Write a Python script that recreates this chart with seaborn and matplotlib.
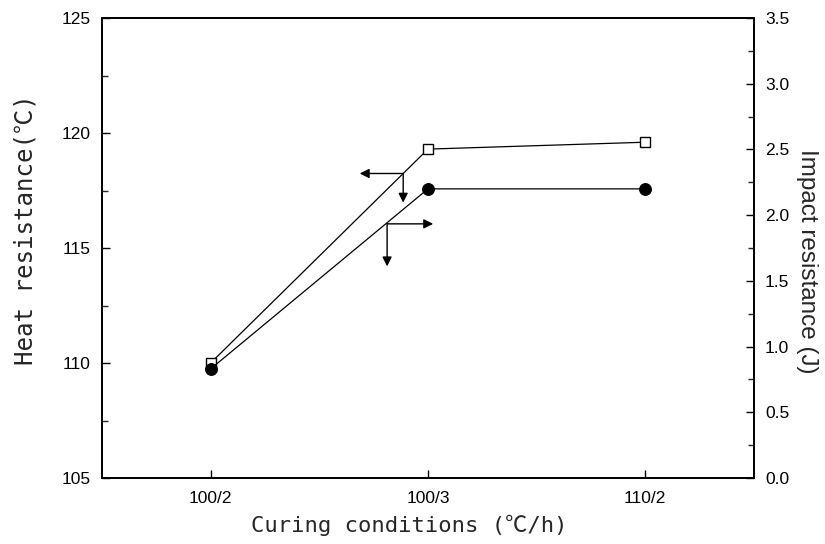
import matplotlib
matplotlib.use("Agg")
import matplotlib.pyplot as plt
import seaborn as sns
from matplotlib.ticker import MultipleLocator, FormatStrFormatter

# data
conditions = ["100/2", "100/3", "110/2"]
heat_resistance = [110.0, 119.3, 119.6]     # open squares, left axis (C)
impact_resistance = [0.83, 2.2, 2.2]        # filled circles, right axis (J)

# L-shaped arrow markers (corner on the curve, in left-axis units)
heat_arrow = [0.886, 118.24, 0.686, 116.97]     # corner x, corner y, left tip x, down tip y
impact_arrow = [0.812, 116.05, 1.024, 114.2]    # corner x, corner y, right tip x, down tip y

sns.set_style("ticks")
plt.rcParams["font.family"] = ["Liberation Sans", "DejaVu Sans"]
plt.rcParams["xtick.direction"] = "in"
plt.rcParams["ytick.direction"] = "in"

fig = plt.figure(figsize=(8.25, 5.44), dpi=100)
ax = fig.add_axes([0.1236, 0.1213, 0.7903, 0.8456])
ax2 = ax.twinx()

sns.lineplot(x=conditions, y=heat_resistance, ax=ax, color="black", lw=0.9,
             marker="s", markersize=7.5, markerfacecolor="white",
             markeredgecolor="black", markeredgewidth=1.0, sort=False)
sns.lineplot(x=conditions, y=impact_resistance, ax=ax2, color="black", lw=0.9,
             marker="o", markersize=8.5, markerfacecolor="black",
             markeredgecolor="black", sort=False)

ax.set_xlim(-0.5, 2.5)
ax.set_ylim(105, 125)
ax2.set_ylim(0, 3.5)
ax.yaxis.set_major_locator(MultipleLocator(5))
ax.yaxis.set_minor_locator(MultipleLocator(2.5))
ax2.yaxis.set_major_locator(MultipleLocator(0.5))
ax2.yaxis.set_minor_locator(MultipleLocator(0.25))
ax2.yaxis.set_major_formatter(FormatStrFormatter("%.1f"))

for a in (ax, ax2):
    for s in a.spines.values():
        s.set_visible(True)
        s.set_linewidth(1.3)
        s.set_color("black")
    a.tick_params(which="major", length=6, width=1.0, labelsize=12.5, colors="black")
    a.tick_params(which="minor", length=4, width=1.0)
ax.tick_params(axis="x", pad=9)
ax.tick_params(axis="y", pad=8)
ax2.tick_params(axis="y", pad=8)

label_font = ["DejaVu Sans Mono", "Noto Sans CJK JP"]
ax.set_xlabel("Curing conditions (\u2103/h)", fontsize=16, family=label_font)
ax.set_ylabel("Heat resistance(\u2103)", fontsize=17.4, family=label_font)
ax2.set_ylabel("Impact resistance (J)", fontsize=17.5, rotation=270)

# place labels by their centres, as in the original
for lab_axis, lab, xy in ((ax.xaxis, ax.xaxis.label, (0.471, -0.102)),
                          (ax.yaxis, ax.yaxis.label, (-0.1166, 0.539)),
                          (ax2.yaxis, ax2.yaxis.label, (1.081, 0.4717))):
    lab_axis.set_label_coords(*xy)
    lab.set_rotation_mode("default")
    lab.set_ha("center")
    lab.set_va("center")

arrow = dict(arrowstyle="-|>", color="black", lw=1.0, mutation_scale=14, shrinkA=0, shrinkB=0)
cx, cy, tx, ty = heat_arrow
ax.annotate("", xy=(tx, cy), xytext=(cx, cy), arrowprops=arrow)
ax.annotate("", xy=(cx, ty), xytext=(cx, cy), arrowprops=arrow)
cx, cy, tx, ty = impact_arrow
ax.annotate("", xy=(tx, cy), xytext=(cx, cy), arrowprops=arrow)
ax.annotate("", xy=(cx, ty), xytext=(cx, cy), arrowprops=arrow)

fig.savefig("out.png", dpi=100)
